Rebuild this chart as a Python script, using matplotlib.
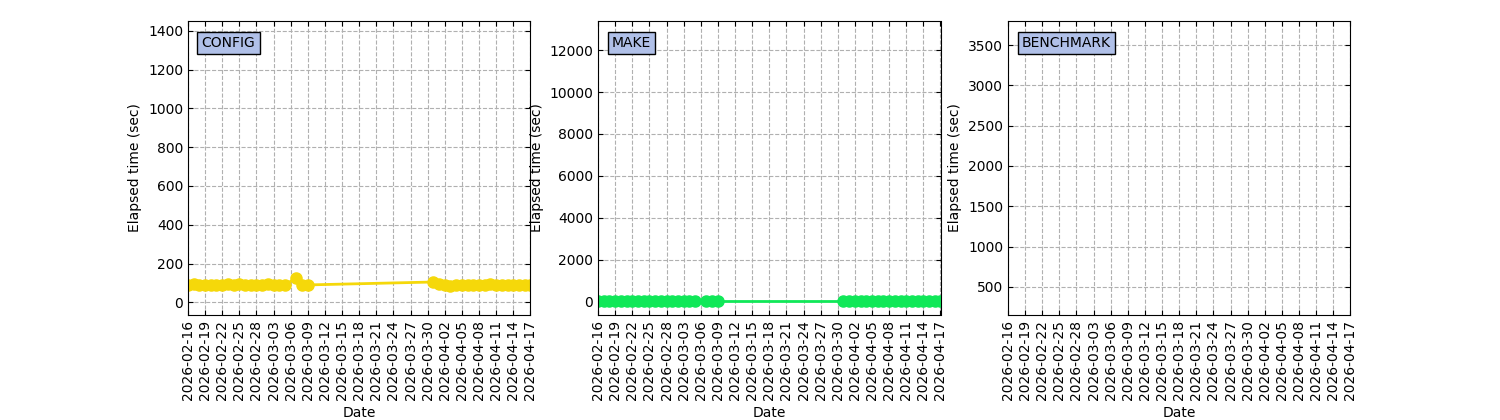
import numpy as np
import pandas as pd
import matplotlib
matplotlib.use("Agg")
import matplotlib.pyplot as plt
import matplotlib.dates as mdates

# run dates: daily 02-16..03-05, 03-07..03-09, 03-31..04-17
dates = (list(pd.date_range("2026-02-16", "2026-03-05"))
         + list(pd.date_range("2026-03-07", "2026-03-09"))
         + list(pd.date_range("2026-03-31", "2026-04-17")))

config_times = [92, 95, 92, 90, 88, 92, 90, 94, 92, 95, 90, 92, 91, 88, 95, 90, 88, 92,
                125, 92, 90,
                105, 95, 88, 86, 90, 92, 90, 88, 90, 92, 96, 92, 90, 92, 88, 90, 91, 90]
make_times = [5] * 18 + [5] * 3 + [5] * 18

panels = [
    ("CONFIG", config_times, "#f5d80a", (-65, 1450)),
    ("MAKE", make_times, "#10e858", (-650, 13400)),
    ("BENCHMARK", None, None, (150, 3800)),
]

fig = plt.figure(figsize=(15, 4.2), dpi=100)
lefts = [0.1253, 0.3987, 0.672]
ticks = pd.date_range("2026-02-16", "2026-04-17", freq="3D")

for left, (name, values, color, ylim) in zip(lefts, panels):
    ax = fig.add_axes([left, 0.25, 0.2283, 0.70])
    if values is not None:
        ax.plot(dates, values, color=color, marker="o", markersize=8, linewidth=2)
    ax.set_xlim(pd.Timestamp("2026-02-16"), pd.Timestamp("2026-04-17"))
    ax.set_ylim(*ylim)
    ax.set_xticks(ticks)
    ax.xaxis.set_major_formatter(mdates.DateFormatter("%Y-%m-%d"))
    ax.tick_params(axis="x", rotation=90)
    ax.tick_params(direction="in", top=True, right=True)
    ax.grid(True, linestyle="--", color="#b0b0b0")
    ax.set_xlabel("Date")
    ax.set_ylabel("Elapsed time (sec)")
    ax.text(0.04, 0.95, name, transform=ax.transAxes, va="top", ha="left",
            bbox=dict(facecolor="#b0c0e8", edgecolor="black", boxstyle="square,pad=0.3"))

fig.savefig("out.png", dpi=100)
